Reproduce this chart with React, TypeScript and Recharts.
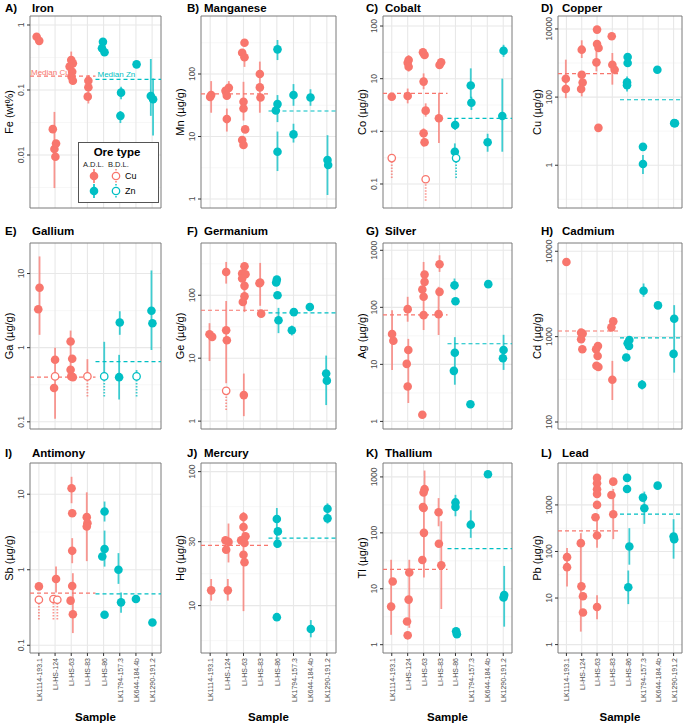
import React from "react";
import {
  ComposedChart,
  Scatter,
  XAxis,
  YAxis,
  ErrorBar,
  ReferenceLine,
  ReferenceArea,
  CartesianGrid,
} from "recharts";

const CU = "#F8766D";
const ZN = "#00BFC4";

const SAMPLES = [
  "LK1114-193.1",
  "LI-HS-124",
  "LI-HS-63",
  "LI-HS-83",
  "LI-HS-86",
  "LK1794-157.3",
  "LK644-184.4b",
  "LK1290-191.2",
];
const SAMPLE_POS = [1, 2, 3, 4, 5, 6, 7, 8];

// point = [sample, jitter, value, low?, high?]
// Iron
const feCu = [
  [1, -0.14, 0.66], [1, 0.02, 0.57],
  [2, -0.04, 0.0124, 0.0031, 0.046], [2, -0.14, 0.025], [2, 0.06, 0.015], [2, 0.02, 0.0094],
  [3, 0, 0.29, 0.14, 0.39], [3, 0.1, 0.257], [3, -0.1, 0.229], [3, 0.06, 0.191], [3, 0.02, 0.16], [3, 0.1, 0.139],
  [4, 0.06, 0.139, 0.062, 0.17], [4, 0.06, 0.11], [4, 0.02, 0.079],
];
const feZn = [
  [5, -0.04, 0.55], [5, -0.1, 0.44], [5, 0.06, 0.38],
  [6, 0.08, 0.091, 0.072, 0.112], [6, 0.04, 0.04, 0.031, 0.0475],
  [7, 0.04, 0.248],
  [8, -0.08, 0.081, 0.04, 0.3], [8, 0.06, 0.072, 0.02, 0.15],
];
const feMedian = [0.164, 0.146];

// Manganese
const mnCu = [
  [1, 0.06, 46, 24, 77], [1, 0, 43],
  [2, 0.12, 60, 44, 77], [2, -0.08, 54], [2, 0, 45], [2, 0, 19, 12, 28],
  [3, 0.06, 317], [3, -0.08, 219], [3, 0.06, 185, 130, 240], [3, 0, 36, 18, 75], [3, 0, 28], [3, 0.1, 13], [3, -0.08, 8.8], [3, 0, 7.3],
  [4, -0.02, 100, 24, 158], [4, -0.02, 61], [4, 0.02, 42],
];
const mnZn = [
  [5, 0.04, 248, 167, 350], [5, 0.04, 33, 17, 46], [5, -0.06, 26], [5, 0.04, 5.7, 2.8, 12],
  [6, 0, 46, 31, 69], [6, 0, 10.8, 8, 16],
  [7, 0.02, 42, 31, 57],
  [8, 0.04, 4.2, 1.16, 10.5], [8, 0.08, 3.5],
];
const mnMedian = [48, 25.6];

// Cobalt
const coCu = [
  [1, 0, 4.55],
  [2, 0.06, 22.6, 13.6, 28], [2, 0, 20.1], [2, 0.06, 16.9], [2, 0, 4.7, 3.4, 6.5],
  [3, -0.04, 31.6], [3, 0.06, 28.1], [3, 0, 8.8, 6.3, 12.6], [3, 0.13, 2.47, 1.9, 3.4], [3, 0, 0.92, 0.51, 1.14], [3, 0.06, 0.62],
  [4, 0.1, 20.5], [4, 0, 18.2], [4, -0.04, 1.77, 0.6, 5.4],
];
const coCuBdl = [[1, 0, 0.31, 0.13], [3, 0.13, 0.123, 0.048]];
const coZn = [
  [5, -0.02, 1.32, 1.06, 1.77], [5, -0.04, 0.41, 0.33, 0.59],
  [6, -0.04, 7.4, 4.3, 15.7], [6, 0, 3.5, 2.54, 4.55],
  [7, 0.02, 0.62, 0.41, 0.9],
  [8, 0.02, 34, 26, 44], [8, -0.06, 1.95, 0.41, 10],
];
const coZnBdl = [[5, 0.04, 0.31, 0.13]];
const coMedian = [5.27, 1.77];

// Copper
const cuCu = [
  [1, -0.04, 346, 93, 1256], [1, -0.04, 172],
  [2, 0, 2466, 1403, 4645], [2, 0, 454, 105, 569], [2, 0.06, 269], [2, -0.04, 172],
  [3, 0, 9560], [3, 0, 3620], [3, 0.1, 2760], [3, -0.04, 1047, 569, 2470], [3, 0.09, 12.5],
  [4, -0.04, 6080], [4, 0, 894, 232, 1970], [4, 0.15, 637],
];
const cuZn = [
  [5, 0, 1500], [5, 0, 1000], [5, -0.04, 270, 147, 405], [5, -0.04, 224],
  [6, 0, 3.46], [6, 0, 1.09, 0.556, 2.01],
  [7, -0.06, 637],
  [8, 0.04, 17.2], [8, 0.09, 17],
];
const cuMedian = [486, 83.6];

// Gallium
const gaCu = [
  [1, 0.04, 6.42, 1.49, 17], [1, -0.04, 3.29],
  [2, 0, 0.687, 0.11, 1.0], [2, -0.06, 0.286],
  [3, -0.04, 1.21, 0.37, 1.7], [3, 0.06, 0.708], [3, -0.04, 0.504], [3, 0, 0.41], [3, 0.1, 0.4],
];
const gaCuBdl = [[2, 0, 0.41], [4, 0, 0.41, 0.22, 0.7]];
const gaZn = [
  [6, 0, 2.18, 1.49, 3.1], [6, -0.04, 0.4, 0.2, 0.8],
  [8, -0.04, 3.15, 0.93, 11], [8, 0.02, 2.13],
];
const gaZnBdl = [[5, 0.04, 0.41, 0.22, 1.2], [7, 0.04, 0.41, 0.22, 0.5]];
const gaMedian = [0.4, 0.65];

// Germanium
const geCu = [
  [1, -0.04, 24, 9, 36], [1, 0.12, 21.8],
  [2, -0.04, 234, 153, 338], [2, -0.04, 27.8, 4, 81], [2, 0, 19.3],
  [3, 0.06, 289], [3, -0.08, 221], [3, 0.12, 216], [3, -0.08, 184], [3, 0.06, 141], [3, 0.06, 96, 54, 318], [3, -0.04, 78], [3, 0.02, 2.59, 1.2, 5.7],
  [4, 0, 159, 68, 326], [4, -0.04, 155], [4, 0.06, 51],
];
const geCuBdl = [[2, -0.04, 3.03, 1.5]];
const geZn = [
  [5, 0, 177], [5, -0.04, 159], [5, 0.04, 100], [5, 0.1, 40, 25, 63],
  [6, 0.02, 54], [6, -0.1, 27.8, 23, 33],
  [7, -0.02, 65],
  [8, -0.04, 5.7, 1.8, 11], [8, 0, 4.4],
];
const geMedian = [57.8, 52.5];

// Silver
const agCu = [
  [1, 0.02, 34, 8, 89], [1, 0.1, 26],
  [2, 0, 93, 56, 153], [2, 0.04, 17.9, 2.1, 28], [2, -0.06, 10.2], [2, 0, 4.1],
  [3, 0.06, 376], [3, 0.06, 280], [3, -0.08, 205], [3, 0, 153], [3, 0, 73, 40, 625], [3, -0.08, 1.31],
  [4, 0, 569, 418, 818], [4, 0, 187], [4, -0.06, 76, 32.7, 229],
];
const agZn = [
  [5, -0.06, 244, 200, 320], [5, 0, 128], [5, -0.04, 16, 4.4, 30], [5, -0.1, 7.7],
  [6, -0.06, 2.0],
  [7, 0.06, 255],
  [8, 0.02, 17.9, 8, 33], [8, -0.02, 12.8],
];
const agMedian = [74, 23];

// Cadmium
const cdCu = [
  [1, 0, 7500],
  [2, -0.04, 1113], [2, 0.06, 1090], [2, -0.04, 931], [2, 0.04, 712],
  [3, 0.06, 778], [3, -0.06, 712], [3, 0.04, 594], [3, -0.04, 455], [3, 0.09, 440],
  [4, 0.06, 1510], [4, -0.06, 1285], [4, 0, 312, 181, 520],
];
const cdZn = [
  [5, 0.11, 914], [5, 0, 836], [5, 0.09, 778], [5, -0.09, 569],
  [6, 0.04, 3443, 2931, 4197], [6, -0.06, 273, 240, 310],
  [7, -0.02, 2322],
  [8, 0.04, 1622, 379, 2340], [8, 0, 628],
];
const cdMedian = [1164, 965];

// Antimony
const sbCu = [
  [1, 0, 0.602],
  [2, 0.06, 0.753, 0.5, 1.1],
  [3, 0.02, 12, 7.6, 17], [3, 0.06, 5.6], [3, 0.06, 1.78, 1.22, 2.62], [3, 0.06, 0.61], [3, -0.04, 0.39], [3, 0.1, 0.257, 0.145, 0.9],
  [4, -0.04, 4.97, 1.3, 10.6], [4, 0, 4.14], [4, -0.04, 3.74],
];
const sbCuBdl = [[1, 0, 0.4, 0.22], [2, -0.1, 0.41, 0.22], [2, 0.14, 0.4, 0.22]];
const sbZn = [
  [5, 0.06, 5.9, 4.35, 8.0], [5, 0.06, 1.88, 1.1, 3.3], [5, -0.08, 1.5], [5, 0.06, 0.254],
  [6, -0.08, 1.0, 0.65, 1.66], [6, 0.08, 0.37, 0.27, 0.5],
  [7, 0, 0.41],
  [8, 0.02, 0.2],
];
const sbMedian = [0.49, 0.48];

// Mercury
const hgCu = [
  [1, 0.06, 13, 10.9, 15.8],
  [2, -0.08, 30.7], [2, 0.1, 29.9, 21, 41], [2, -0.04, 26.1], [2, 0.06, 13, 10.9, 15.8],
  [3, 0, 45.8], [3, 0, 38.6], [3, 0.12, 32.9], [3, -0.14, 30.7], [3, 0.06, 29.3], [3, 0, 24, 9.1, 50], [3, 0.06, 21.1],
];
const hgZn = [
  [5, 0, 44.3, 26.9, 53.5], [5, 0.06, 35.8], [5, 0.04, 29], [5, 0, 8.2],
  [7, 0.04, 6.7, 5.8, 7.8],
  [8, 0.04, 52.9, 41, 58], [8, 0.04, 44.8],
];
const hgMedian = [28.2, 31.9];

// Thallium
const tlCu = [
  [1, -0.04, 4.8, 1.5, 33], [1, 0.06, 13.5],
  [2, 0.1, 19.5, 2.0, 33], [2, 0.06, 6.4], [2, -0.04, 2.6], [2, 0, 1.47],
  [3, 0.06, 604, 300, 1300], [3, 0, 527], [3, -0.04, 289], [3, 0, 278], [3, 0.02, 100, 15.9, 300], [3, -0.08, 32.7],
  [4, -0.06, 233, 131, 418], [4, -0.04, 63.8], [4, 0.11, 26.3, 4.35, 161],
];
const tlZn = [
  [5, 0, 350, 198, 478], [5, 0, 289], [5, 0.04, 1.73], [5, 0.09, 1.54],
  [6, -0.04, 140, 81.5, 253],
  [7, 0.04, 1114],
  [8, 0.06, 7.7, 2.1, 25.6], [8, 0.02, 7.0],
];
const tlMedian = [22.3, 52];

// Lead
const pbCu = [
  [1, 0.04, 75.6, 17.7, 118], [1, 0.04, 46],
  [2, -0.06, 151, 1.9, 247], [2, -0.02, 17.8], [2, 0.08, 10.9], [2, 0.08, 4.9],
  [3, 0, 3800], [3, 0, 2911], [3, 0, 2168], [3, 0, 1722], [3, 0, 1000], [3, -0.1, 545], [3, 0, 220, 120, 600], [3, 0, 6.4, 3.5, 11.5],
  [4, 0.06, 3162], [4, -0.06, 1637], [4, 0.06, 631, 184, 2200],
];
const pbZn = [
  [5, -0.04, 3800], [5, -0.04, 2203], [5, 0.11, 128, 52, 316], [5, 0.04, 17, 7.4, 39],
  [6, 0, 1436], [6, 0.09, 849, 392, 1930],
  [7, -0.04, 2594],
  [8, 0, 210, 70, 493], [8, 0.04, 184],
];
const pbMedian = [277, 631];

const PANELS = [
  { tag: "A)", name: "Iron", unit: "Fe (wt%)", domain: [0.00153, 1.375], ticks: [0.01, 0.1, 1], minor: [0.00316, 0.0316, 0.316], cu: feCu, zn: feZn, cuBdl: [], znBdl: [], median: feMedian, labels: true },
  { tag: "B)", name: "Manganese", unit: "Mn (µg/g)", domain: [0.718, 847], ticks: [1, 10, 100], minor: [3.16, 31.6, 316], cu: mnCu, zn: mnZn, cuBdl: [], znBdl: [], median: mnMedian },
  { tag: "C)", name: "Cobalt", unit: "Co (µg/g)", domain: [0.035, 155], ticks: [0.1, 1, 10, 100], minor: [0.316, 3.16, 31.6], cu: coCu, zn: coZn, cuBdl: coCuBdl, znBdl: coZnBdl, median: coMedian },
  { tag: "D)", name: "Copper", unit: "Cu (µg/g)", domain: [0.0556, 24000], ticks: [1, 100, 10000], minor: [0.1, 10, 1000], cu: cuCu, zn: cuZn, cuBdl: [], znBdl: [], median: cuMedian },
  { tag: "E)", name: "Gallium", unit: "Ga (µg/g)", domain: [0.08, 25.8], ticks: [0.1, 1, 10], minor: [0.316, 3.16], cu: gaCu, zn: gaZn, cuBdl: gaCuBdl, znBdl: gaZnBdl, median: gaMedian },
  { tag: "F)", name: "Germanium", unit: "Ge (µg/g)", domain: [0.75, 676], ticks: [1, 10, 100], minor: [3.16, 31.6, 316], cu: geCu, zn: geZn, cuBdl: geCuBdl, znBdl: [], median: geMedian },
  { tag: "G)", name: "Silver", unit: "Ag (µg/g)", domain: [0.736, 1343], ticks: [1, 10, 100, 1000], minor: [3.16, 31.6, 316], cu: agCu, zn: agZn, cuBdl: [], znBdl: [], median: agMedian },
  { tag: "H)", name: "Cadmium", unit: "Cd (µg/g)", domain: [82.8, 12500], ticks: [100, 1000, 10000], minor: [316, 3162], cu: cdCu, zn: cdZn, cuBdl: [], znBdl: [], median: cdMedian },
  { tag: "I)", name: "Antimony", unit: "Sb (µg/g)", domain: [0.079, 25.9], ticks: [0.1, 1, 10], minor: [0.316, 3.16], cu: sbCu, zn: sbZn, cuBdl: sbCuBdl, znBdl: [], median: sbMedian },
  { tag: "J)", name: "Mercury", unit: "Hg (µg/g)", domain: [4.43, 116], ticks: [10, 30, 100], minor: [5.48, 17.3, 54.8], cu: hgCu, zn: hgZn, cuBdl: [], znBdl: [], median: hgMedian },
  { tag: "K)", name: "Thallium", unit: "Tl (µg/g)", domain: [0.71, 1774], ticks: [1, 10, 100, 1000], minor: [3.16, 31.6, 316], cu: tlCu, zn: tlZn, cuBdl: [], znBdl: [], median: tlMedian },
  { tag: "L)", name: "Lead", unit: "Pb (µg/g)", domain: [0.66, 7943], ticks: [1, 10, 100, 1000], minor: [3.16, 31.6, 316], cu: pbCu, zn: pbZn, cuBdl: [], znBdl: [], median: pbMedian },
];

// layout (px)
const COL_X = [[30, 161], [201, 336], [383, 512], [558, 682]];
const ROW_Y = [[16, 208], [243, 429], [463, 653]];
const TAG_X = [5, 187, 366, 541];
const NAME_X = [32, 204, 385, 562];
const TITLE_Y = [8, 231, 453];
const AXW = 30;
const PAD = 12; // room for tick labels that sit at the panel edge
const X_DOMAIN = [0.45, 8.55];
const SPLIT = 4.5;

const toPoints = (pts: number[][]) =>
  pts.map(([s, dx, v, lo, hi]) => ({
    x: s + dx,
    y: v,
    err: [lo != null ? v - lo : 0, hi != null ? hi - v : 0],
  }));

const toBdl = (pts: number[][]) =>
  pts.map(([s, dx, v, lo, hi]) => ({
    x: s + dx,
    y: v,
    down: [lo != null ? v - lo : 0, 0],
    up: [0, hi != null ? hi - v : 0],
  }));

const dot = (color: string) => (props: any) =>
  <circle cx={props.cx} cy={props.cy} r={4.3} fill={color} />;
const ring = (color: string) => (props: any) =>
  <circle cx={props.cx} cy={props.cy} r={3.7} fill="#fff" stroke={color} strokeWidth={1.3} />;

const YTick = (props: any) => {
  const { x, y, payload } = props;
  return (
    <text transform={`translate(${x - 1},${y}) rotate(-90)`} textAnchor="middle" fontSize={8.5} fill="#4d4d4d">
      {String(payload.value)}
    </text>
  );
};

const XTick = (props: any) => {
  const { x, y, payload } = props;
  return (
    <text transform={`translate(${x + 3},${y}) rotate(-90)`} textAnchor="end" fontSize={7} fill="#4d4d4d">
      {SAMPLES[payload.value - 1]}
    </text>
  );
};

const titleStyle: React.CSSProperties = {
  position: "absolute",
  fontWeight: 700,
  fontSize: 11.5,
  lineHeight: "14px",
  whiteSpace: "nowrap",
  transform: "translateY(-50%)",
};

function Panel({ p, col, row }: any) {
  const [x0, x1] = COL_X[col];
  const [y0, y1] = ROW_Y[row];
  const bottom = row === 2;
  const xh = bottom ? 62 : 0;
  const cu = toPoints(p.cu);
  const zn = toPoints(p.zn);
  const cuB = toBdl(p.cuBdl);
  const znB = toBdl(p.znBdl);
  const [mCu, mZn] = p.median;
  const barProps = { direction: "y" as const, width: 0, strokeWidth: 1.8, strokeOpacity: 0.75, isAnimationActive: false };

  return (
    <>
      <div style={{ ...titleStyle, left: TAG_X[col], top: TITLE_Y[row] }}>{p.tag}</div>
      <div style={{ ...titleStyle, left: NAME_X[col], top: TITLE_Y[row] }}>{p.name}</div>
      <div
        style={{
          position: "absolute",
          left: x0 - 21,
          top: (y0 + y1) / 2,
          transform: "translate(-50%,-50%) rotate(-90deg)",
          fontSize: 11,
          whiteSpace: "nowrap",
        }}
      >
        {p.unit}
      </div>
      <div style={{ position: "absolute", left: x0 - AXW, top: y0 - PAD }}>
        <ComposedChart
          width={x1 - x0 + AXW + 2}
          height={y1 - y0 + xh + PAD * 2}
          margin={{ top: PAD, right: 2, bottom: PAD, left: 0 }}
        >
          <CartesianGrid horizontalValues={p.minor} vertical={false} stroke="#f3f3f3" strokeWidth={0.7} />
          <CartesianGrid horizontalValues={p.ticks} verticalValues={SAMPLE_POS} stroke="#e8e8e8" strokeWidth={1.1} />
          <XAxis
            type="number"
            dataKey="x"
            domain={X_DOMAIN}
            allowDataOverflow
            ticks={SAMPLE_POS}
            interval={0}
            hide={!bottom}
            height={xh}
            axisLine={false}
            tickLine={{ stroke: "#333" }}
            tickSize={3}
            tickMargin={2}
            tick={(t: any) => <XTick {...t} />}
          />
          <YAxis
            type="number"
            dataKey="y"
            scale="log"
            domain={p.domain}
            allowDataOverflow
            ticks={p.ticks}
            interval={0}
            width={AXW}
            axisLine={false}
            tickLine={{ stroke: "#333" }}
            tickSize={3}
            tickMargin={2}
            tick={(t: any) => <YTick {...t} />}
          />
          <ReferenceLine
            segment={[{ x: X_DOMAIN[0], y: mCu }, { x: SPLIT, y: mCu }]}
            stroke={CU}
            strokeDasharray="4 3"
            strokeWidth={1.2}
            ifOverflow="visible"
            label={p.labels ? { value: "Median Cu", position: "insideBottomLeft", offset: 1, fill: CU, fontSize: 8 } : undefined}
          />
          <ReferenceLine
            segment={[{ x: SPLIT, y: mZn }, { x: X_DOMAIN[1], y: mZn }]}
            stroke={ZN}
            strokeDasharray="4 3"
            strokeWidth={1.2}
            ifOverflow="visible"
            label={p.labels ? { value: "Median Zn", position: "insideBottomLeft", offset: 2, fill: ZN, fontSize: 8 } : undefined}
          />
          <Scatter data={cu} shape={dot(CU)} isAnimationActive={false}>
            <ErrorBar dataKey="err" stroke={CU} {...barProps} />
          </Scatter>
          {cuB.length > 0 && (
            <Scatter data={cuB} shape={ring(CU)} isAnimationActive={false}>
              <ErrorBar dataKey="down" stroke={CU} strokeDasharray="1.5 1.5" {...barProps} />
              <ErrorBar dataKey="up" stroke={CU} {...barProps} />
            </Scatter>
          )}
          <Scatter data={zn} shape={dot(ZN)} isAnimationActive={false}>
            <ErrorBar dataKey="err" stroke={ZN} {...barProps} />
          </Scatter>
          {znB.length > 0 && (
            <Scatter data={znB} shape={ring(ZN)} isAnimationActive={false}>
              <ErrorBar dataKey="down" stroke={ZN} strokeDasharray="1.5 1.5" {...barProps} />
              <ErrorBar dataKey="up" stroke={ZN} {...barProps} />
            </Scatter>
          )}
          <ReferenceArea
            x1={X_DOMAIN[0]}
            x2={X_DOMAIN[1]}
            y1={p.domain[0]}
            y2={p.domain[1]}
            fill="none"
            stroke="#7a7a7a"
            strokeWidth={1}
            ifOverflow="visible"
          />
        </ComposedChart>
      </div>
    </>
  );
}

function OreLegend() {
  const glyph = (cx: number, cy: number, color: string, open: boolean) =>
    open ? (
      <g>
        <line x1={cx} x2={cx} y1={cy - 7} y2={cy + 7} stroke={color} strokeWidth={1.4} strokeDasharray="1.5 1.5" />
        <circle cx={cx} cy={cy} r={3.7} fill="#fff" stroke={color} strokeWidth={1.3} />
      </g>
    ) : (
      <g>
        <line x1={cx} x2={cx} y1={cy - 7} y2={cy + 7} stroke={color} strokeWidth={1.6} />
        <circle cx={cx} cy={cy} r={4.3} fill={color} />
      </g>
    );
  return (
    <div
      style={{
        position: "absolute",
        left: 78,
        top: 142,
        width: 81,
        height: 61,
        border: "1px solid #555",
        background: "#fff",
        boxSizing: "border-box",
      }}
    >
      <div style={{ position: "absolute", left: 0, width: 76, top: 3, textAlign: "center", fontWeight: 700, fontSize: 11.5 }}>
        Ore type
      </div>
      <div style={{ position: "absolute", left: 4, top: 17, fontSize: 7.5, color: "#222", whiteSpace: "nowrap" }}>
        A.D.L.&nbsp;&nbsp;B.D.L.
      </div>
      <svg width={81} height={61} style={{ position: "absolute", left: -1, top: -1 }}>
        {glyph(16, 34, CU, false)}
        {glyph(38, 34, CU, true)}
        {glyph(16, 49, ZN, false)}
        {glyph(38, 49, ZN, true)}
      </svg>
      <div style={{ position: "absolute", left: 46, top: 28, fontSize: 9 }}>Cu</div>
      <div style={{ position: "absolute", left: 46, top: 43, fontSize: 9 }}>Zn</div>
    </div>
  );
}

export default function App() {
  return (
    <div
      style={{
        position: "absolute",
        left: 0,
        top: 0,
        width: 685,
        height: 726,
        background: "#fff",
        overflow: "hidden",
        fontFamily: '"Liberation Sans", Arial, Helvetica, sans-serif',
        color: "#000",
      }}
    >
      {PANELS.map((p, i) => (
        <Panel key={p.tag} p={p} col={i % 4} row={Math.floor(i / 4)} />
      ))}
      <OreLegend />
      {COL_X.map(([a, b]) => (
        <div
          key={a}
          style={{
            position: "absolute",
            left: (a + b) / 2,
            top: 717,
            transform: "translate(-50%,-50%)",
            fontWeight: 700,
            fontSize: 11.5,
          }}
        >
          Sample
        </div>
      ))}
    </div>
  );
}
